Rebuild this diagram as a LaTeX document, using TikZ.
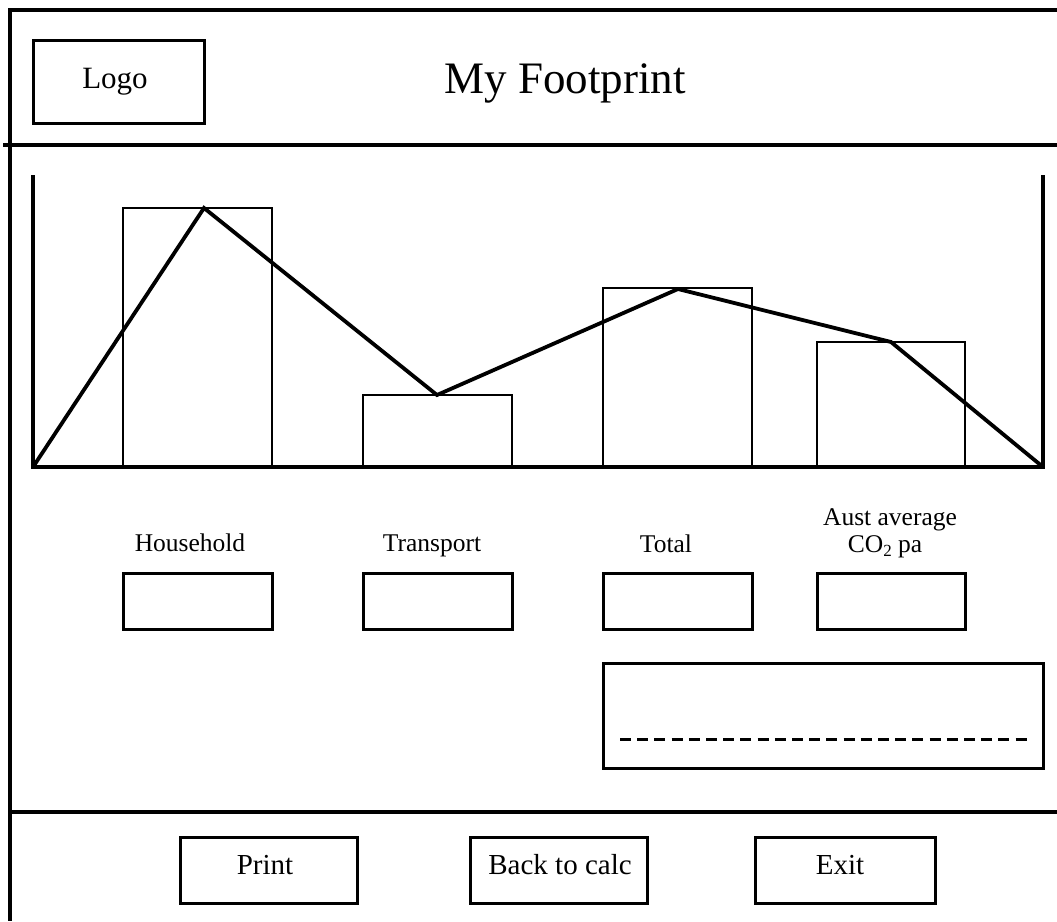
\documentclass[tikz,border=0pt]{standalone}
\usepackage{fontspec}
\setmainfont{Liberation Serif}
\tikzset{
  frame/.style={line width=3.2pt},
  boxstyle/.style={draw, line width=3pt, inner sep=0pt},
  bar/.style={draw, line width=2.8pt},
  poly/.style={line width=3.8pt, line join=miter},
  lbl/.style={font=\fontsize{25.5}{27}\selectfont, align=center, inner sep=0pt, anchor=base},
  btn/.style={draw, line width=3pt, inner sep=0pt, minimum width=177pt, minimum height=66pt},
  btntext/.style={font=\fontsize{29}{31}\selectfont, inner sep=0pt, anchor=base},
  databox/.style={draw, line width=3pt, inner sep=0pt, minimum width=149pt, minimum height=56pt}
}
\begin{document}
\begin{tikzpicture}[x=1pt,y=-1pt]
\useasboundingbox (0,0) rectangle (1057,921);
% frame
\coordinate (tl) at (10,10);
\coordinate (tr) at (1057,10);
\coordinate (bl) at (10,921);
\coordinate (h1l) at (3,145);
\coordinate (h1r) at (1057,145);
\coordinate (h2l) at (10,812);
\coordinate (h2r) at (1057,812);
\draw[frame] (tr) -- (tl) -- (bl);
\draw[frame] (h1l) -- (h1r);
\draw[frame] (h2l) -- (h2r);
% header
\node[boxstyle, minimum width=171pt, minimum height=83pt] (logo) at (118.5,81.5) {};
\node[font=\fontsize{31}{33}\selectfont, inner sep=0pt, anchor=base] (logotext) at (115,88) {Logo};
\node[font=\fontsize{45}{47}\selectfont, inner sep=0pt, anchor=base] (title) at (565,93) {My Footprint};
% chart axes
\coordinate (axtl) at (33,175);
\coordinate (axbl) at (33,467);
\coordinate (axbr) at (1043,467);
\coordinate (axtr) at (1043,175);
\draw[frame] (axtl) -- (axbl) -- (axbr) -- (axtr);
% bars
\node[bar, minimum width=149pt, minimum height=259pt, inner sep=0pt] (b1) at (197.5,337.5) {};
\node[bar, minimum width=149pt, minimum height=72pt, inner sep=0pt] (b2) at (437.5,431) {};
\node[bar, minimum width=149pt, minimum height=179pt, inner sep=0pt] (b3) at (677.5,377.5) {};
\node[bar, minimum width=148pt, minimum height=125pt, inner sep=0pt] (b4) at (891,404.5) {};
% line
\coordinate (p1) at (204,208);
\coordinate (p2) at (437,395);
\coordinate (p3) at (678,289);
\coordinate (p4) at (891,342);
\draw[poly] (axbl) -- (p1) -- (p2) -- (p3) -- (p4) -- (axbr);
% labels
\node[lbl] (l1) at (190,551) {Household};
\node[lbl] (l2) at (432,551) {Transport};
\node[lbl] (l3) at (666,552) {Total};
\node[lbl] (l4a) at (890,525) {Aust average};
\node[lbl] (l4b) at (885,552) {CO\raisebox{-0.35ex}{\fontsize{17}{18}\selectfont 2} pa};
% data boxes
\node[databox] (d1) at (197.5,601) {};
\node[databox] (d2) at (437.5,601) {};
\node[databox] (d3) at (677.5,601) {};
\node[databox, minimum width=148pt] (d4) at (891,601) {};
% comment box
\node[boxstyle, minimum width=440pt, minimum height=105pt] (cbox) at (823,715.5) {};
\coordinate (dl) at (620,739);
\coordinate (dr) at (1032,739);
\draw[line width=3pt, dash pattern=on 11pt off 6.2pt] (dl) -- (dr);
% buttons
\node[btn] (print) at (268.5,870) {};
\node[btntext] (printt) at (265,874) {Print};
\node[btn] (back) at (558.5,870) {};
\node[btntext] (backt) at (560,874) {Back to calc};
\node[btn, minimum width=180pt] (exit) at (845,870) {};
\node[btntext] (exitt) at (840,874) {Exit};
\end{tikzpicture}
\end{document}
